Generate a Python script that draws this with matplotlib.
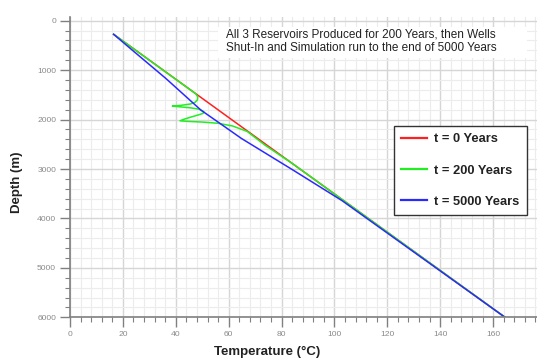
import matplotlib
matplotlib.use("Agg")
import matplotlib.pyplot as plt
from matplotlib.ticker import MultipleLocator
from matplotlib.patches import Rectangle

plt.rcParams['font.family'] = ['Liberation Sans', 'DejaVu Sans']

# t = 0 Years (initial geotherm)
t0_temp = [16.5, 164.5]
t0_depth = [275, 6000]

# t = 200 Years
t200_temp = [16.5, 47.6, 48.3, 48.2, 47.3, 45.5, 42.0, 38.7, 41.5, 45.5, 48.8, 50.6, 50.3, 48.6,
             46.0, 43.0, 41.6, 44.5, 50.0, 56.0, 61.5, 67.0, 73.8, 84.4, 164.5]
t200_depth = [275, 1480, 1540, 1600, 1650, 1685, 1712, 1727, 1742, 1762, 1790, 1840, 1875, 1905,
              1945, 1995, 2025, 2037, 2050, 2075, 2130, 2240, 2520, 2900, 6000]

# t = 5000 Years
t5000_temp = [16.5, 23.5, 36.2, 49.5, 57.1, 64.8, 84.0, 102.9, 164.5]
t5000_depth = [275, 593, 1166, 1808, 2092, 2381, 3010, 3641, 6000]

series = [
    ("t = 0 Years", t0_temp, t0_depth, "#ff2020"),
    ("t = 200 Years", t200_temp, t200_depth, "#22ee22"),
    ("t = 5000 Years", t5000_temp, t5000_depth, "#2a2aff"),
]

note = "All 3 Reservoirs Produced for 200 Years, then Wells\nShut-In and Simulation run to the end of 5000 Years"

W, H = 537, 362
fig = plt.figure(figsize=(W / 100, H / 100), dpi=100)
ax = fig.add_axes([70 / W, 44.7 / H, 476 / W, 300 / H])

for label, temp, depth, color in series:
    ax.plot(temp, depth, color=color, lw=1.1, label=label)

ax.set_xlim(0, 180)
ax.set_ylim(6000, -69)
ax.xaxis.set_major_locator(MultipleLocator(20))
ax.xaxis.set_minor_locator(MultipleLocator(4))
ax.yaxis.set_major_locator(MultipleLocator(1000))
ax.yaxis.set_minor_locator(MultipleLocator(200))

ax.grid(which="major", color="#d6d6d6", lw=1.0)
ax.grid(which="minor", color="#ececec", lw=0.8)
ax.set_axisbelow(True)

for s in ["top", "right"]:
    ax.spines[s].set_visible(False)
for s in ["left", "bottom"]:
    ax.spines[s].set_color("#808080")
    ax.spines[s].set_linewidth(1.2)

ax.tick_params(which="major", length=7, width=1.0, color="#808080",
               labelsize=6.1, labelcolor="#8a8a8a", pad=3)
ax.tick_params(which="minor", length=3.5, width=0.8, color="#808080")

fig.text(17 / W, 1 - 182 / H, "Depth (m)", rotation=90, ha="center", va="center",
         fontsize=9.5, fontweight="bold", color="#222222")
fig.text(267.5 / W, 1 - 352 / H, "Temperature (°C)", ha="center", va="center",
         fontsize=9.5, fontweight="bold", color="#222222")

# note box
fig.patches.append(Rectangle((218 / W, 1 - 58 / H), 309 / W, 31 / H,
                             transform=fig.transFigure, facecolor="white",
                             edgecolor="none", zorder=3))
fig.text(226 / W, 1 - 41 / H, note, ha="left", va="center", fontsize=8.5,
         color="#222222", linespacing=1.21, zorder=4)

leg = ax.legend(loc="upper left", bbox_to_anchor=(394.3 / W, 1 - 126 / H),
                bbox_transform=fig.transFigure, borderaxespad=0,
                fancybox=False, framealpha=1, edgecolor="#333333",
                handlelength=2.0, handletextpad=0.55, borderpad=0.55,
                labelspacing=1.5, prop={"size": 9.3, "weight": "bold"})
leg.get_frame().set_linewidth(1.0)
for t in leg.get_texts():
    t.set_color("#222222")
for h in leg.get_lines():
    h.set_linewidth(1.6)

fig.savefig("out.png", dpi=100)
